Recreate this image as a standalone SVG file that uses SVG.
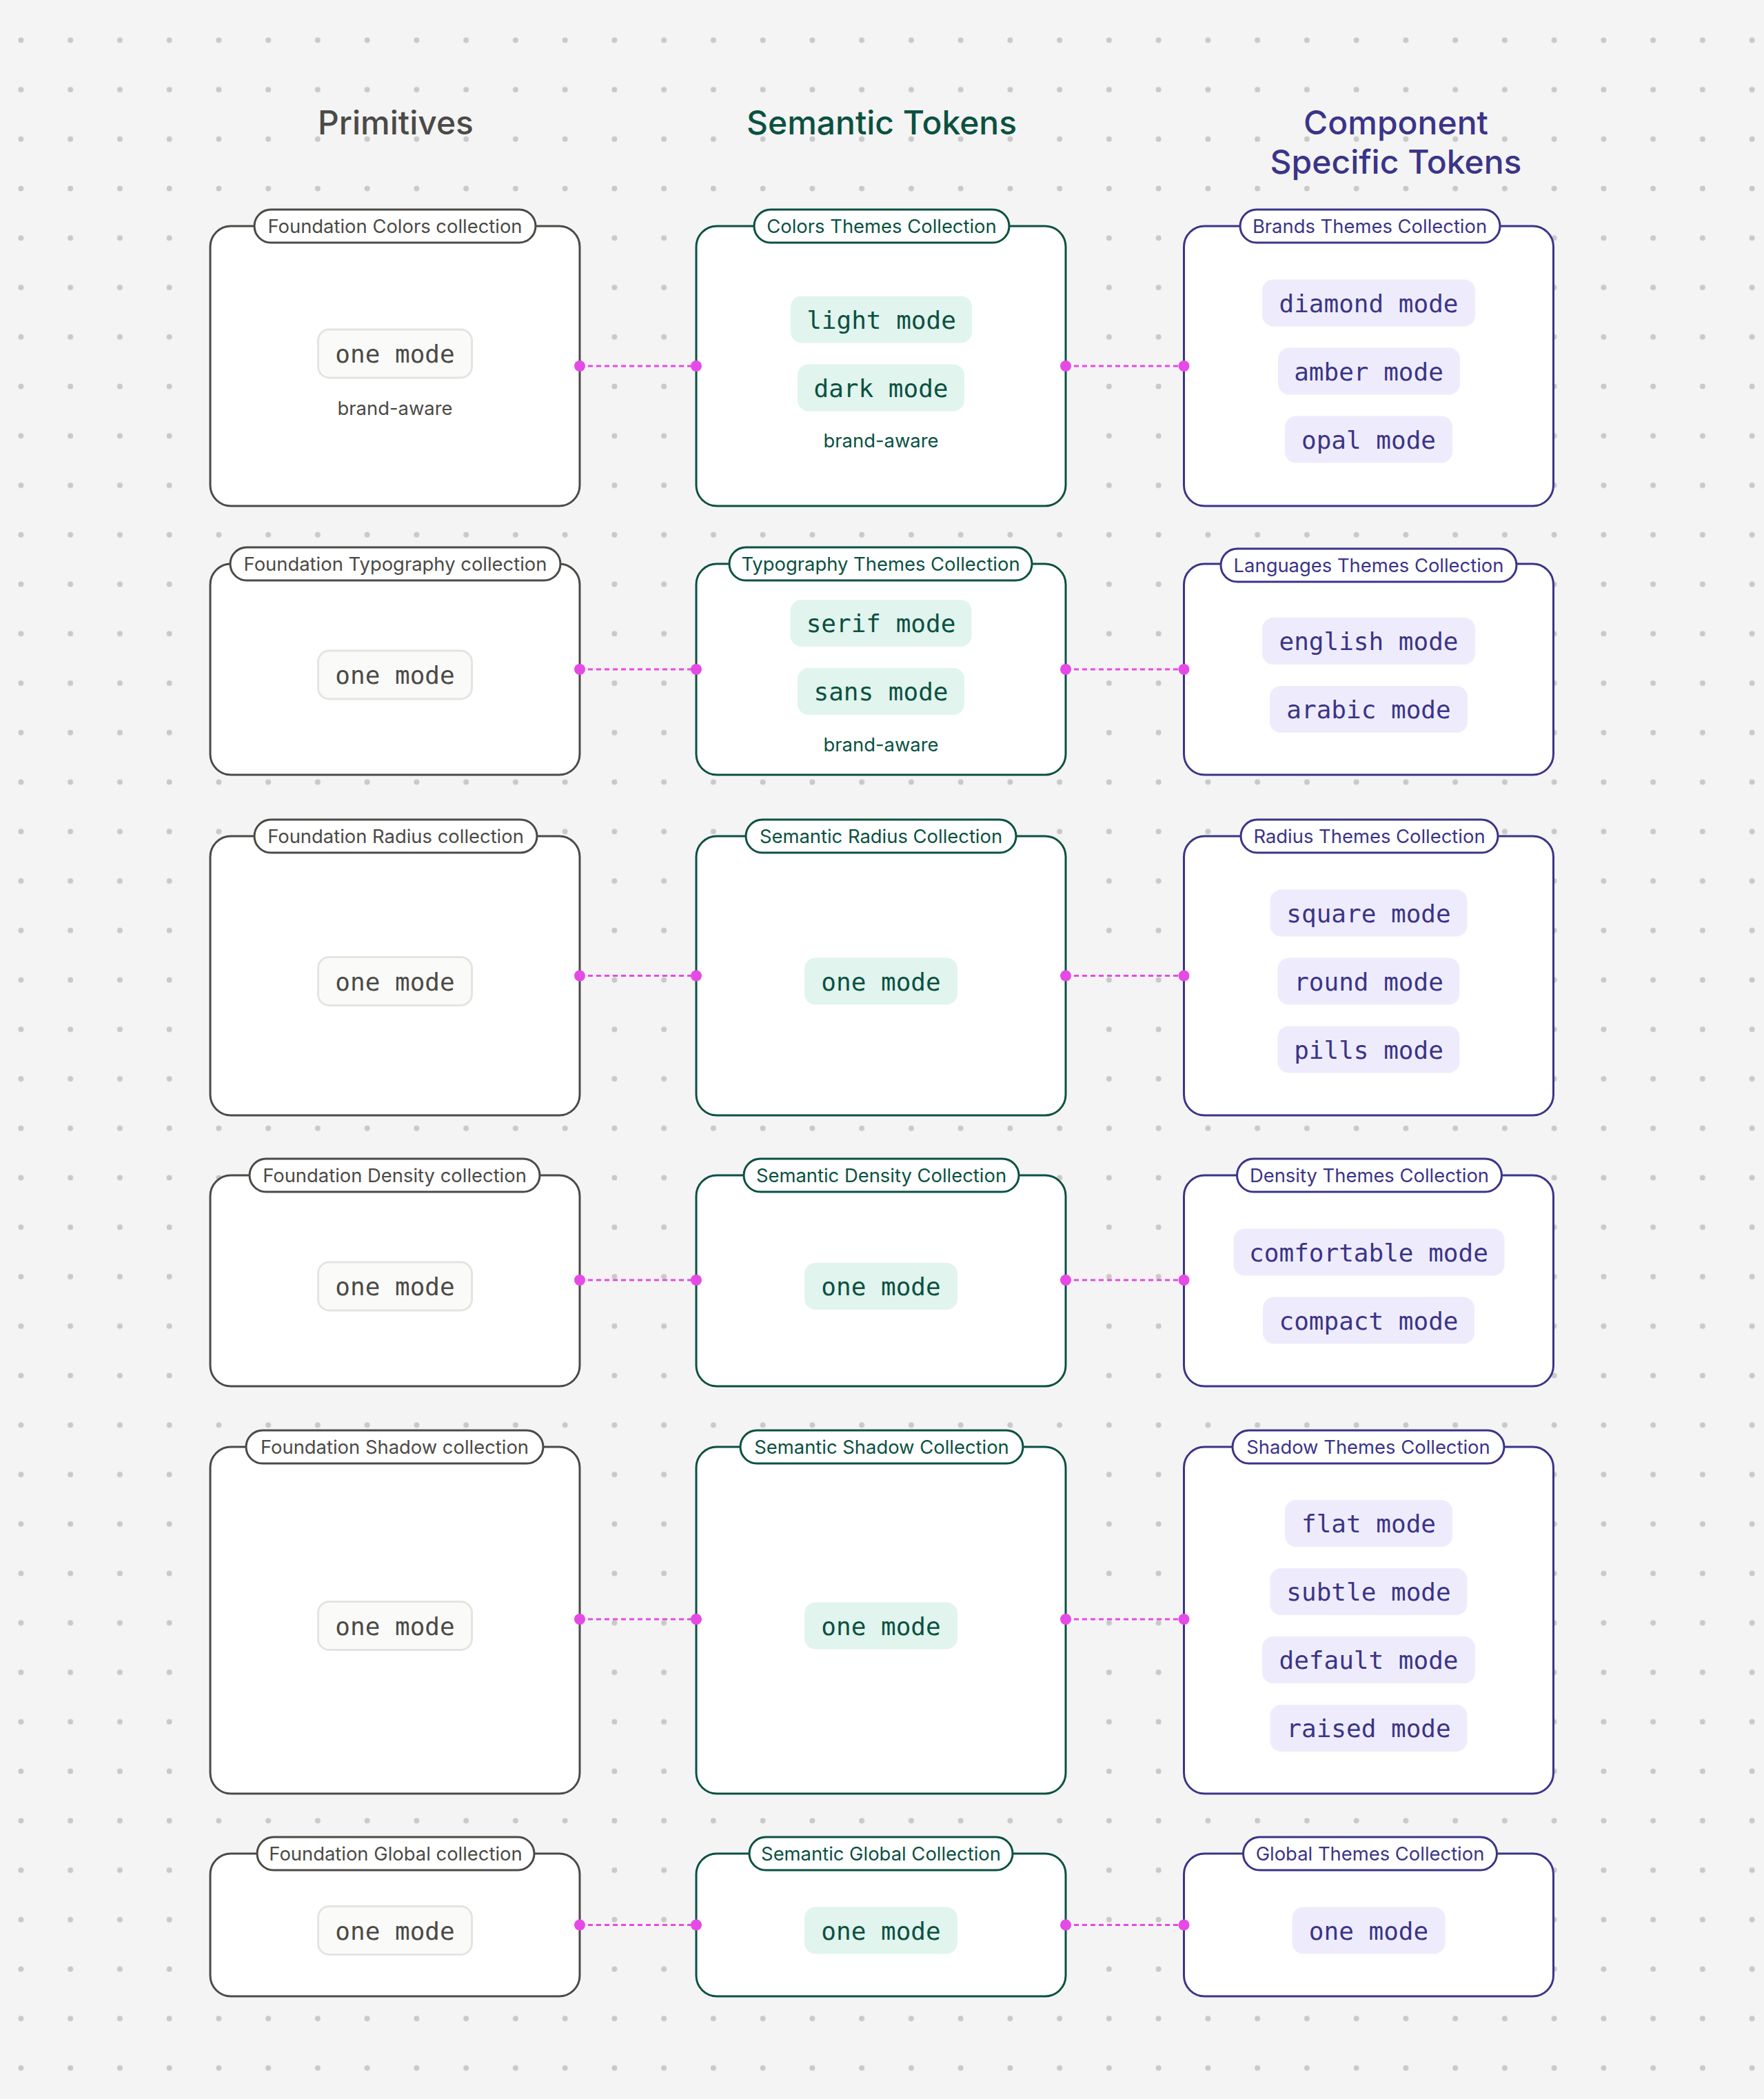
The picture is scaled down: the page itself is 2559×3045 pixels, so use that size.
<svg xmlns="http://www.w3.org/2000/svg" width="2559" height="3045" viewBox="0 0 2559 3045">
<style>
.title{font-family:Inter,"Noto Sans",sans-serif;font-size:48px;font-weight:500;text-anchor:middle}
.lbl{font-family:Inter,"Noto Sans",sans-serif;font-size:27.4px;text-anchor:middle}
.mono{font-family:"DejaVu Sans Mono","Liberation Mono",monospace;font-size:36px;text-anchor:middle}
.box{fill:#ffffff;stroke-width:3}
.pill{fill:#ffffff;stroke-width:3}
.p{stroke:#4b4a46}.pt{fill:#4b4a46}
.s{stroke:#0b5141}.st{fill:#0b5141}
.c{stroke:#3b3488}.ct{fill:#3b3488}
.chipP{fill:#fafaf8;stroke:#e4e4e1;stroke-width:3}
.chipS{fill:#e1f4ee}
.chipC{fill:#eeecfc}
.conn line{stroke:#e64ae6;stroke-width:3;stroke-dasharray:7 5}
.conn circle{fill:#e64ae6}
</style>
<defs>
<pattern id="dots" x="0" y="0" width="71.75" height="71.75" patternUnits="userSpaceOnUse">
<circle cx="30.4" cy="58.2" r="4" fill="#c9c9c9"/>
</pattern>
</defs>
<rect width="2559" height="3045" fill="#f4f4f4"/>
<rect width="2559" height="3045" fill="url(#dots)"/>

<g id="titles">
<text class="title pt" x="574" y="195">Primitives</text>
<text class="title st" x="1279" y="195">Semantic Tokens</text>
<text class="title ct" x="2025" y="195">Component</text>
<text class="title ct" x="2025" y="252">Specific Tokens</text>
</g>

<!-- Row 1 -->
<g id="foundation-colors">
<rect class="box p" x="305" y="328" width="536" height="406" rx="30"/>
<rect class="pill p" x="369" y="304" width="408" height="48" rx="24"/>
<text class="lbl pt" x="573" y="338">Foundation Colors collection</text>
<rect class="chipP" x="461.5" y="478" width="223" height="70" rx="16"/>
<text class="mono pt" x="573" y="526">one mode</text>
<text class="lbl pt" x="573" y="602">brand-aware</text>
</g>
<g id="colors-themes">
<rect class="box s" x="1010" y="328" width="536" height="406" rx="30"/>
<rect class="pill s" x="1094" y="304" width="370" height="48" rx="24"/>
<text class="lbl st" x="1279" y="338">Colors Themes Collection</text>
<rect class="chipS" x="1147" y="429.5" width="263" height="68" rx="16"/>
<text class="mono st" x="1278.5" y="476.5">light mode</text>
<rect class="chipS" x="1157" y="528.5" width="242" height="68" rx="16"/>
<text class="mono st" x="1278" y="575.5">dark mode</text>
<text class="lbl st" x="1278" y="649">brand-aware</text>
</g>
<g id="brands-themes">
<rect class="box c" x="1717.5" y="328" width="536" height="406" rx="30"/>
<rect class="pill c" x="1799" y="304" width="377" height="48" rx="24"/>
<text class="lbl ct" x="1987" y="338">Brands Themes Collection</text>
<rect class="chipC" x="1831" y="405.5" width="309" height="68" rx="16"/>
<text class="mono ct" x="1985.5" y="452.5">diamond mode</text>
<rect class="chipC" x="1854" y="504.5" width="264" height="68" rx="16"/>
<text class="mono ct" x="1985.5" y="551.5">amber mode</text>
<rect class="chipC" x="1864" y="603.5" width="243" height="68" rx="16"/>
<text class="mono ct" x="1985.5" y="650.5">opal mode</text>
</g>

<!-- Row 2 -->
<g id="foundation-typography">
<rect class="box p" x="305" y="818" width="536" height="306" rx="30"/>
<rect class="pill p" x="334" y="794" width="479" height="48" rx="24"/>
<text class="lbl pt" x="573.5" y="828">Foundation Typography collection</text>
<rect class="chipP" x="461.5" y="944" width="223" height="70" rx="16"/>
<text class="mono pt" x="573" y="992">one mode</text>
</g>
<g id="typography-themes">
<rect class="box s" x="1010" y="818" width="536" height="306" rx="30"/>
<rect class="pill s" x="1058" y="794" width="439" height="48" rx="24"/>
<text class="lbl st" x="1277.5" y="828">Typography Themes Collection</text>
<rect class="chipS" x="1146.5" y="870" width="263" height="68" rx="16"/>
<text class="mono st" x="1278" y="917">serif mode</text>
<rect class="chipS" x="1157" y="969" width="242" height="68" rx="16"/>
<text class="mono st" x="1278" y="1016">sans mode</text>
<text class="lbl st" x="1278" y="1090">brand-aware</text>
</g>
<g id="languages-themes">
<rect class="box c" x="1717.5" y="818" width="536" height="306" rx="30"/>
<rect class="pill c" x="1771" y="796" width="429" height="48" rx="24"/>
<text class="lbl ct" x="1985.5" y="830">Languages Themes Collection</text>
<rect class="chipC" x="1831" y="896" width="309" height="68" rx="16"/>
<text class="mono ct" x="1985.5" y="943">english mode</text>
<rect class="chipC" x="1842" y="995" width="287" height="68" rx="16"/>
<text class="mono ct" x="1985.5" y="1042">arabic mode</text>
</g>

<!-- Row 3 -->
<g id="foundation-radius">
<rect class="box p" x="305" y="1213" width="536" height="405" rx="30"/>
<rect class="pill p" x="369" y="1189" width="410" height="48" rx="24"/>
<text class="lbl pt" x="574" y="1223">Foundation Radius collection</text>
<rect class="chipP" x="461.5" y="1388.5" width="223" height="70" rx="16"/>
<text class="mono pt" x="573" y="1436.5">one mode</text>
</g>
<g id="semantic-radius">
<rect class="box s" x="1010" y="1213" width="536" height="405" rx="30"/>
<rect class="pill s" x="1082" y="1189" width="392" height="48" rx="24"/>
<text class="lbl st" x="1278" y="1223">Semantic Radius Collection</text>
<rect class="chipS" x="1167" y="1389.5" width="222" height="68" rx="16"/>
<text class="mono st" x="1278" y="1436.5">one mode</text>
</g>
<g id="radius-themes">
<rect class="box c" x="1717.5" y="1213" width="536" height="405" rx="30"/>
<rect class="pill c" x="1800" y="1189" width="373" height="48" rx="24"/>
<text class="lbl ct" x="1986.5" y="1223">Radius Themes Collection</text>
<rect class="chipC" x="1842.5" y="1290.5" width="286" height="68" rx="16"/>
<text class="mono ct" x="1985.5" y="1337.5">square mode</text>
<rect class="chipC" x="1853.5" y="1389.5" width="264" height="68" rx="16"/>
<text class="mono ct" x="1985.5" y="1436.5">round mode</text>
<rect class="chipC" x="1853.5" y="1488.5" width="264" height="68" rx="16"/>
<text class="mono ct" x="1985.5" y="1535.5">pills mode</text>
</g>

<!-- Row 4 -->
<g id="foundation-density">
<rect class="box p" x="305" y="1705" width="536" height="306" rx="30"/>
<rect class="pill p" x="362" y="1681" width="421" height="48" rx="24"/>
<text class="lbl pt" x="572.5" y="1715">Foundation Density collection</text>
<rect class="chipP" x="461.5" y="1831" width="223" height="70" rx="16"/>
<text class="mono pt" x="573" y="1879">one mode</text>
</g>
<g id="semantic-density">
<rect class="box s" x="1010" y="1705" width="536" height="306" rx="30"/>
<rect class="pill s" x="1079" y="1681" width="399" height="48" rx="24"/>
<text class="lbl st" x="1278.5" y="1715">Semantic Density Collection</text>
<rect class="chipS" x="1167" y="1832" width="222" height="68" rx="16"/>
<text class="mono st" x="1278" y="1879">one mode</text>
</g>
<g id="density-themes">
<rect class="box c" x="1717.5" y="1705" width="536" height="306" rx="30"/>
<rect class="pill c" x="1794.5" y="1681" width="384" height="48" rx="24"/>
<text class="lbl ct" x="1986.5" y="1715">Density Themes Collection</text>
<rect class="chipC" x="1789.5" y="1782.5" width="393" height="68" rx="16"/>
<text class="mono ct" x="1985.5" y="1829.5">comfortable mode</text>
<rect class="chipC" x="1832" y="1881.5" width="307" height="68" rx="16"/>
<text class="mono ct" x="1985.5" y="1928.5">compact mode</text>
</g>

<!-- Row 5 -->
<g id="foundation-shadow">
<rect class="box p" x="305" y="2099" width="536" height="503" rx="30"/>
<rect class="pill p" x="357" y="2075" width="431" height="48" rx="24"/>
<text class="lbl pt" x="572.5" y="2109">Foundation Shadow collection</text>
<rect class="chipP" x="461.5" y="2323.5" width="223" height="70" rx="16"/>
<text class="mono pt" x="573" y="2371.5">one mode</text>
</g>
<g id="semantic-shadow">
<rect class="box s" x="1010" y="2099" width="536" height="503" rx="30"/>
<rect class="pill s" x="1074" y="2075" width="410" height="48" rx="24"/>
<text class="lbl st" x="1279" y="2109">Semantic Shadow Collection</text>
<rect class="chipS" x="1167" y="2324.5" width="222" height="68" rx="16"/>
<text class="mono st" x="1278" y="2371.5">one mode</text>
</g>
<g id="shadow-themes">
<rect class="box c" x="1717.5" y="2099" width="536" height="503" rx="30"/>
<rect class="pill c" x="1788" y="2075" width="394" height="48" rx="24"/>
<text class="lbl ct" x="1985" y="2109">Shadow Themes Collection</text>
<rect class="chipC" x="1864" y="2176" width="243" height="68" rx="16"/>
<text class="mono ct" x="1985.5" y="2223">flat mode</text>
<rect class="chipC" x="1842.5" y="2275" width="286" height="68" rx="16"/>
<text class="mono ct" x="1985.5" y="2322">subtle mode</text>
<rect class="chipC" x="1831" y="2374" width="309" height="68" rx="16"/>
<text class="mono ct" x="1985.5" y="2421">default mode</text>
<rect class="chipC" x="1842.5" y="2473" width="286" height="68" rx="16"/>
<text class="mono ct" x="1985.5" y="2520">raised mode</text>
</g>

<!-- Row 6 -->
<g id="foundation-global">
<rect class="box p" x="305" y="2689" width="536" height="207" rx="30"/>
<rect class="pill p" x="373" y="2665" width="402" height="48" rx="24"/>
<text class="lbl pt" x="574" y="2699">Foundation Global collection</text>
<rect class="chipP" x="461.5" y="2765.5" width="223" height="70" rx="16"/>
<text class="mono pt" x="573" y="2813.5">one mode</text>
</g>
<g id="semantic-global">
<rect class="box s" x="1010" y="2689" width="536" height="207" rx="30"/>
<rect class="pill s" x="1087" y="2665" width="382" height="48" rx="24"/>
<text class="lbl st" x="1278" y="2699">Semantic Global Collection</text>
<rect class="chipS" x="1167" y="2766.5" width="222" height="68" rx="16"/>
<text class="mono st" x="1278" y="2813.5">one mode</text>
</g>
<g id="global-themes">
<rect class="box c" x="1717.5" y="2689" width="536" height="207" rx="30"/>
<rect class="pill c" x="1803.5" y="2665" width="368" height="48" rx="24"/>
<text class="lbl ct" x="1987.5" y="2699">Global Themes Collection</text>
<rect class="chipC" x="1874.5" y="2766.5" width="222" height="68" rx="16"/>
<text class="mono ct" x="1985.5" y="2813.5">one mode</text>
</g>

<g id="connectors" class="conn">
<g><line x1="841" y1="531" x2="1010" y2="531"/><circle cx="841" cy="531" r="8"/><circle cx="1010" cy="531" r="8"/></g>
<g><line x1="1546" y1="531" x2="1717.5" y2="531"/><circle cx="1546" cy="531" r="8"/><circle cx="1717.5" cy="531" r="8"/></g>
<g><line x1="841" y1="971" x2="1010" y2="971"/><circle cx="841" cy="971" r="8"/><circle cx="1010" cy="971" r="8"/></g>
<g><line x1="1546" y1="971" x2="1717.5" y2="971"/><circle cx="1546" cy="971" r="8"/><circle cx="1717.5" cy="971" r="8"/></g>
<g><line x1="841" y1="1415.5" x2="1010" y2="1415.5"/><circle cx="841" cy="1415.5" r="8"/><circle cx="1010" cy="1415.5" r="8"/></g>
<g><line x1="1546" y1="1415.5" x2="1717.5" y2="1415.5"/><circle cx="1546" cy="1415.5" r="8"/><circle cx="1717.5" cy="1415.5" r="8"/></g>
<g><line x1="841" y1="1857" x2="1010" y2="1857"/><circle cx="841" cy="1857" r="8"/><circle cx="1010" cy="1857" r="8"/></g>
<g><line x1="1546" y1="1857" x2="1717.5" y2="1857"/><circle cx="1546" cy="1857" r="8"/><circle cx="1717.5" cy="1857" r="8"/></g>
<g><line x1="841" y1="2349" x2="1010" y2="2349"/><circle cx="841" cy="2349" r="8"/><circle cx="1010" cy="2349" r="8"/></g>
<g><line x1="1546" y1="2349" x2="1717.5" y2="2349"/><circle cx="1546" cy="2349" r="8"/><circle cx="1717.5" cy="2349" r="8"/></g>
<g><line x1="841" y1="2792.5" x2="1010" y2="2792.5"/><circle cx="841" cy="2792.5" r="8"/><circle cx="1010" cy="2792.5" r="8"/></g>
<g><line x1="1546" y1="2792.5" x2="1717.5" y2="2792.5"/><circle cx="1546" cy="2792.5" r="8"/><circle cx="1717.5" cy="2792.5" r="8"/></g>
</g>
</svg>
